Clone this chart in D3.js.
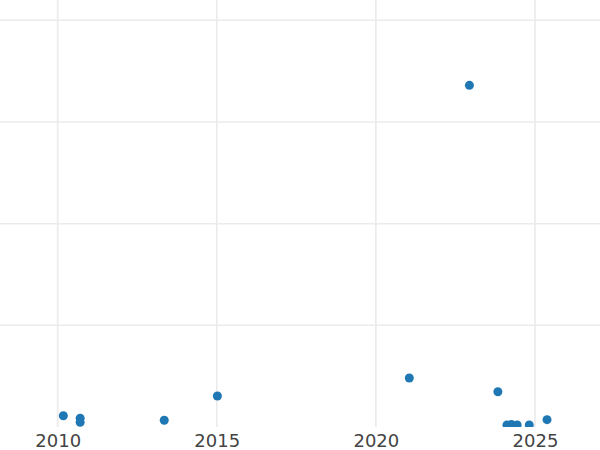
<!DOCTYPE html>
<html>
<head>
<meta charset="utf-8">
<script src="https://cdn.jsdelivr.net/npm/d3@7"></script>
<style>
  html, body { margin: 0; padding: 0; background: #fff; }
  svg { display: block; }
</style>
</head>
<body>
<svg id="chart" width="600" height="450"></svg>
<script>
// Data
const dates = [
  "2010-03-07", "2010-09-16", "2010-09-16", "2013-05-08", "2015-01-08",
  "2021-01-19", "2022-12-10", "2023-11-02", "2024-02-14", "2024-04-05",
  "2024-06-10", "2024-10-27", "2025-05-19"
];
const values = [2.22, 1.71, 0.92, 1.32, 6.1, 9.64, 67.2, 6.94, 0.4, 0.5, 0.4, 0.4, 1.44];
const xTickYears = [2010, 2015, 2020, 2025];
const yGridValues = [20, 40, 60, 80];

const width = 600;
const height = 450;
const plotBottom = 427;

const svg = d3.select("#chart");
const parse = d3.timeParse("%Y-%m-%d");

const x = d3.scaleTime()
  .domain([new Date(2010, 0, 1), new Date(2025, 0, 1)])
  .range([57.7, 535]);

const y = d3.scaleLinear()
  .domain([0, 80])
  .range([plotBottom, 20.3]);

svg.append("defs")
  .append("clipPath")
  .attr("id", "plot-clip")
  .append("rect")
  .attr("x", 0)
  .attr("y", 0)
  .attr("width", width)
  .attr("height", plotBottom);

// grid
const grid = svg.append("g").attr("clip-path", "url(#plot-clip)");

grid.selectAll("line.hgrid")
  .data(yGridValues)
  .enter()
  .append("line")
  .attr("class", "hgrid")
  .attr("x1", 0)
  .attr("x2", width)
  .attr("y1", (d) => y(d))
  .attr("y2", (d) => y(d))
  .attr("stroke", "#ebebeb")
  .attr("stroke-width", 1.5);

const tickDates = xTickYears.map((yr) => new Date(yr, 0, 1));

grid.selectAll("line.vgrid")
  .data(tickDates)
  .enter()
  .append("line")
  .attr("class", "vgrid")
  .attr("x1", (d) => x(d))
  .attr("x2", (d) => x(d))
  .attr("y1", 0)
  .attr("y2", plotBottom)
  .attr("stroke", "#ebebeb")
  .attr("stroke-width", 1.7);

// x axis labels
const xAxis = d3.axisBottom(x)
  .tickValues(tickDates)
  .tickFormat(d3.timeFormat("%Y"))
  .tickSize(0)
  .tickPadding(0);

const axisG = svg.append("g")
  .attr("transform", "translate(0," + plotBottom + ")")
  .call(xAxis);

axisG.select(".domain").remove();
axisG.selectAll("text")
  .attr("dy", null)
  .attr("y", 20)
  .attr("fill", "#444")
  .style("font-family", "'DejaVu Sans', Verdana, sans-serif")
  .style("font-size", "18px");

// points
svg.append("g")
  .attr("clip-path", "url(#plot-clip)")
  .selectAll("circle")
  .data(dates.map((d, i) => ({ date: parse(d), value: values[i] })))
  .enter()
  .append("circle")
  .attr("cx", (d) => x(d.date))
  .attr("cy", (d) => y(d.value))
  .attr("r", 4.5)
  .attr("fill", "#1f77b4");
</script>
</body>
</html>
